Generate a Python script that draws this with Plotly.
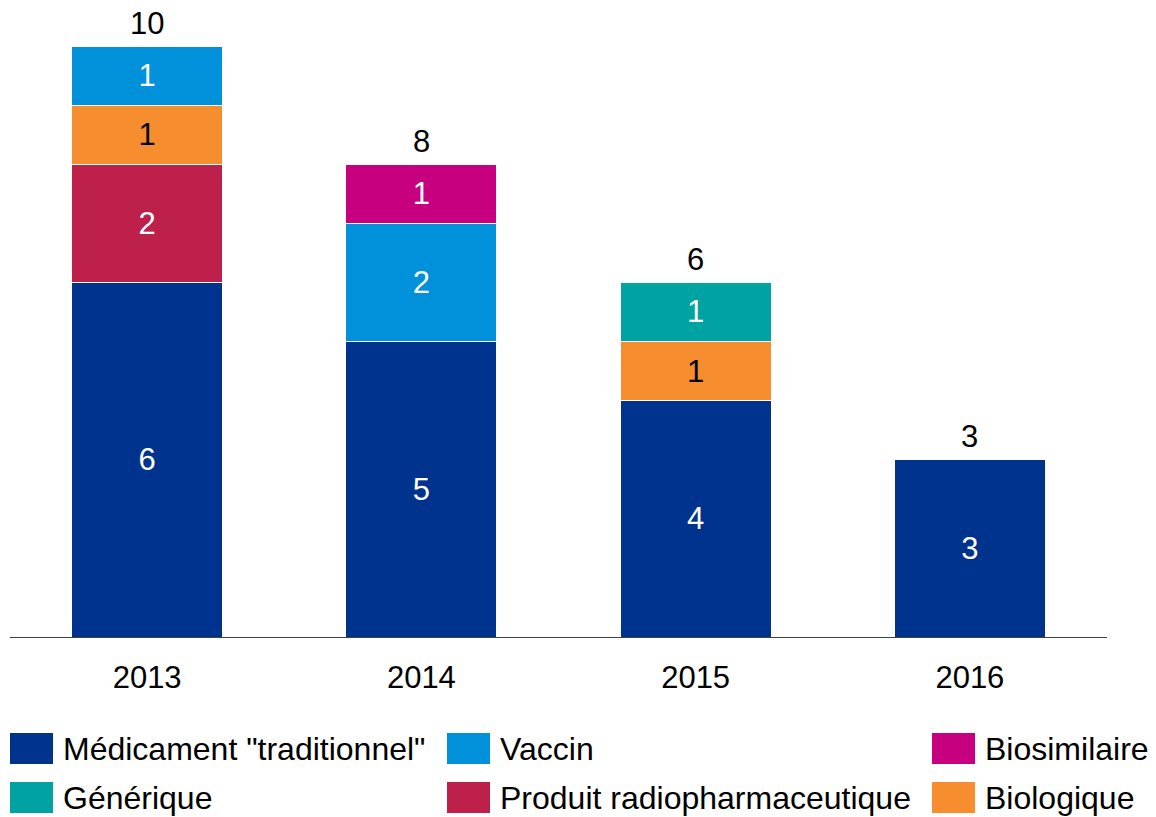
import plotly.graph_objects as go

years = ["2013", "2014", "2015", "2016"]
series_names = ["Médicament \"traditionnel\"", "Produit radiopharmaceutique", "Biologique",
                "Vaccin", "Générique", "Biosimilaire"]
medicament = [6, 5, 4, 3]
radiopharm = [2, 0, 0, 0]
biologique = [1, 0, 1, 0]
vaccin = [1, 2, 0, 0]
generique = [0, 0, 1, 0]
biosimilaire = [0, 1, 0, 0]
series_values = [medicament, radiopharm, biologique, vaccin, generique, biosimilaire]
colors = ["#00338D", "#BC204B", "#F68D2E", "#0091DA", "#00A3A1", "#C6007E"]
text_colors = ["white", "white", "black", "white", "white", "white"]

# legend layout: (series index, column, row)
legend_order = [(0, 0, 0), (3, 1, 0), (5, 2, 0), (4, 0, 1), (1, 1, 1), (2, 2, 1)]

FONT = "Liberation Sans, Arial, sans-serif"
W, H = 1156, 817
ML, MR, MT, MB = 10, 49, 10, 180
YMAX = 10.61

fig = go.Figure()
for name, vals, col, tcol in zip(series_names, series_values, colors, text_colors):
    fig.add_trace(go.Bar(
        x=years, y=[v if v else None for v in vals], name=name,
        marker=dict(color=col, line=dict(color="white", width=1)),
        text=[str(v) if v else "" for v in vals],
        textposition="inside", insidetextanchor="middle", textangle=0,
        constraintext="none",
        insidetextfont=dict(color=tcol, size=31, family=FONT),
        showlegend=False, hoverinfo="x+y+name",
    ))

totals = [sum(s[i] for s in series_values) for i in range(len(years))]
for i, t in enumerate(totals):
    fig.add_annotation(x=i, y=t, xref="x", yref="y", text=str(t), showarrow=False,
                       yanchor="middle", yshift=23,
                       font=dict(size=31, color="black", family=FONT))

# manual legend (positions in page pixels)
plot_w = W - ML - MR
plot_h = H - MT - MB
col_x = [10, 447, 932]
row_y = [748.5, 797.5]
sw_w, sw_h = 43, 31
for idx, c, r in legend_order:
    x0 = col_x[c]
    yc = row_y[r]
    fig.add_shape(type="rect", xref="paper", yref="paper",
                  x0=(x0 - ML) / plot_w, x1=(x0 + sw_w - ML) / plot_w,
                  y0=(H - MB - (yc + sw_h / 2)) / plot_h, y1=(H - MB - (yc - sw_h / 2)) / plot_h,
                  fillcolor=colors[idx], line=dict(width=0))
    fig.add_annotation(xref="paper", yref="paper",
                       x=(x0 + sw_w + 8 - ML) / plot_w, y=(H - MB - yc) / plot_h,
                       text=series_names[idx], showarrow=False, xanchor="left", yanchor="middle",
                       font=dict(size=32, color="black", family=FONT))

fig.update_layout(
    width=W, height=H, barmode="stack", bargap=0.45,
    margin=dict(l=ML, r=MR, t=MT, b=MB, autoexpand=False),
    plot_bgcolor="white", paper_bgcolor="white",
    font=dict(family=FONT, size=31, color="black"),
    xaxis=dict(type="category", range=[-0.5, len(years) - 0.5], showline=True,
               linecolor="#404040", linewidth=1,
               ticks="outside", ticklen=13, tickcolor="rgba(0,0,0,0)", tickfont=dict(size=31),
               showgrid=False, fixedrange=True),
    yaxis=dict(visible=False, range=[0, YMAX], showgrid=False, fixedrange=True),
    showlegend=False,
)

fig.write_html("out.html", config={"displayModeBar": False},
               post_script="document.body.style.margin='0';document.body.style.overflow='hidden';")
